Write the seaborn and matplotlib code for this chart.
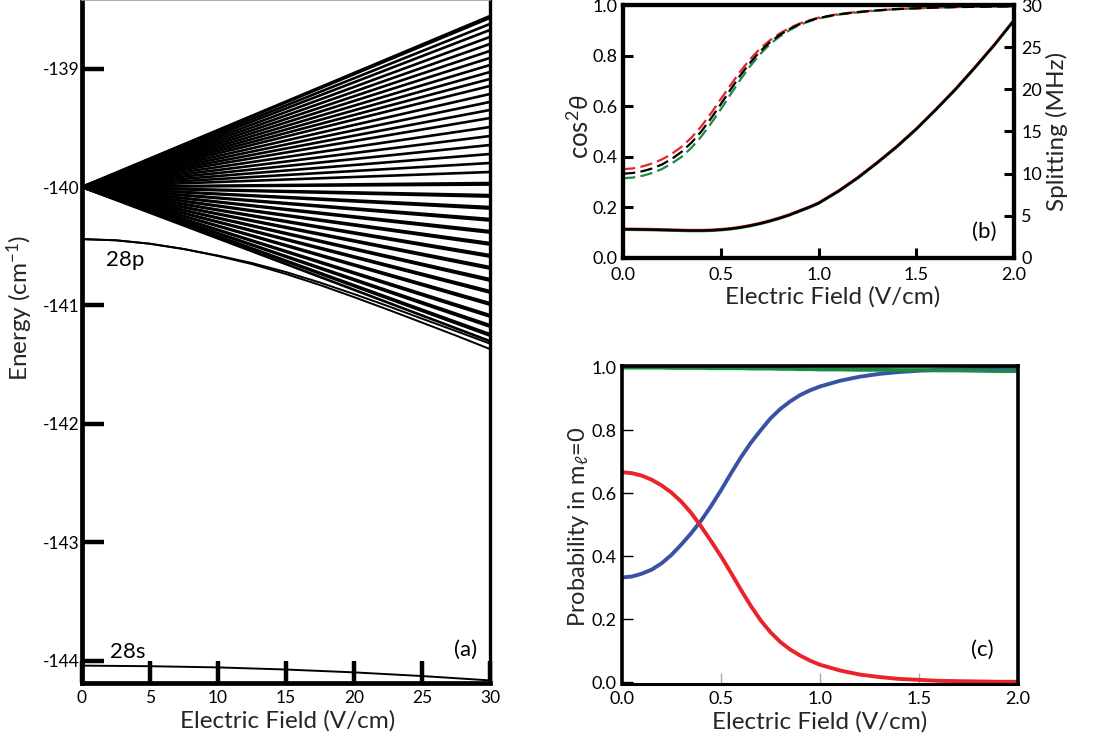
import matplotlib
matplotlib.use("Agg")
import matplotlib.pyplot as plt
import matplotlib.ticker as mticker
import numpy as np
import pandas as pd
import seaborn as sns

sns.set_style("white")
plt.rcParams["font.family"] = ["Lato", "DejaVu Sans"]
plt.rcParams["mathtext.fontset"] = "custom"
plt.rcParams["mathtext.rm"] = "Lato"
plt.rcParams["mathtext.it"] = "Lato:italic"
plt.rcParams["mathtext.bf"] = "Lato:bold"
plt.rcParams["axes.unicode_minus"] = False
plt.rcParams["axes.edgecolor"] = "black"
plt.rcParams["text.color"] = "black"
plt.rcParams["xtick.color"] = "black"
plt.rcParams["ytick.color"] = "black"

# ---------------- (a) n=28 Stark map ----------------
manifold_origin = -140.0          # energy of the degenerate manifold at zero field
manifold_field = [0.0, 30.0]      # V/cm
manifold_end = [                   # energies of the Stark states at 30 V/cm (cm^-1)
    -138.555, -138.571, -138.622, -138.673, -138.732, -138.791, -138.850,
    -138.909, -138.969, -139.028, -139.087, -139.146, -139.214, -139.281,
    -139.349, -139.417, -139.493, -139.569, -139.645, -139.721, -139.797,
    -139.873, -139.966, -139.979, -140.068, -140.081, -140.169, -140.182,
    -140.270, -140.283, -140.372, -140.385, -140.473, -140.486, -140.575,
    -140.588, -140.676, -140.689, -140.778, -140.791, -140.879, -140.892,
    -140.981, -140.994, -141.082, -141.095, -141.167, -141.180, -141.243,
    -141.256, -141.302,
]
p_field = [0.0, 2.5, 5.0, 7.5, 10.0, 12.5, 15.0, 17.5, 20.0, 22.5, 25.0, 27.5, 30.0]
p_upper = [-140.440, -140.450, -140.479, -140.524, -140.579, -140.642, -140.718,
           -140.807, -140.904, -141.006, -141.112, -141.217, -141.323]
p_lower = [-140.440, -140.450, -140.479, -140.524, -140.583, -140.651, -140.735,
           -140.828, -140.930, -141.036, -141.145, -141.255, -141.369]
s_field = [0.0, 5.0, 10.0, 15.0, 20.0, 25.0, 30.0]
s_energy = [-144.043, -144.048, -144.058, -144.076, -144.100, -144.131, -144.168]
a_xticks = [0, 5, 10, 15, 20, 25, 30]
a_yticks = [-139, -140, -141, -142, -143, -144]

# ---------------- shared field grid for (b) and (c), V/cm ----------------
field = [0.00, 0.05, 0.10, 0.15, 0.20, 0.25, 0.30, 0.35, 0.40, 0.45, 0.50,
         0.55, 0.60, 0.65, 0.70, 0.75, 0.80, 0.85, 0.90, 0.95, 1.00,
         1.10, 1.20, 1.30, 1.40, 1.50, 1.60, 1.70, 1.80, 1.90, 2.00]

# ---------------- (b) alignment and splitting ----------------
cos2_red = [0.351, 0.354, 0.362, 0.374, 0.390, 0.412, 0.440, 0.476, 0.520, 0.572, 0.628,
            0.684, 0.738, 0.786, 0.827, 0.860, 0.887, 0.909, 0.926, 0.939, 0.950,
            0.964, 0.973, 0.979, 0.984, 0.987, 0.990, 0.992, 0.993, 0.994, 0.995]
cos2_black = [0.333, 0.336, 0.343, 0.354, 0.370, 0.392, 0.420, 0.456, 0.500, 0.552, 0.608,
              0.666, 0.722, 0.772, 0.816, 0.852, 0.881, 0.905, 0.923, 0.937, 0.949,
              0.963, 0.972, 0.979, 0.984, 0.987, 0.990, 0.992, 0.993, 0.994, 0.995]
cos2_green = [0.315, 0.318, 0.325, 0.336, 0.352, 0.374, 0.400, 0.436, 0.480, 0.532, 0.588,
              0.647, 0.705, 0.758, 0.805, 0.844, 0.875, 0.900, 0.920, 0.935, 0.947,
              0.962, 0.971, 0.978, 0.984, 0.987, 0.990, 0.992, 0.993, 0.994, 0.995]
split_red = [3.46, 3.455, 3.44, 3.42, 3.39, 3.36, 3.33, 3.31, 3.31, 3.34, 3.41,
             3.52, 3.68, 3.89, 4.14, 4.44, 4.78, 5.16, 5.61, 6.06, 6.56,
             7.96, 9.56, 11.36, 13.26, 15.36, 17.66, 20.06, 22.66, 25.36, 28.26]
split_black = [3.40, 3.395, 3.38, 3.36, 3.33, 3.30, 3.27, 3.25, 3.25, 3.28, 3.35,
               3.46, 3.62, 3.83, 4.08, 4.38, 4.72, 5.10, 5.55, 6.00, 6.50,
               7.90, 9.50, 11.30, 13.20, 15.30, 17.60, 20.00, 22.60, 25.30, 28.20]
split_green = [3.34, 3.335, 3.32, 3.30, 3.27, 3.24, 3.21, 3.19, 3.19, 3.22, 3.29,
               3.40, 3.56, 3.77, 4.02, 4.32, 4.66, 5.04, 5.49, 5.94, 6.44,
               7.84, 9.44, 11.24, 13.14, 15.24, 17.54, 19.94, 22.54, 25.24, 28.14]
split_ticks = [0, 5, 10, 15, 20, 25, 30]

# ---------------- (c) m_l = 0 probability ----------------
prob_blue = [0.333, 0.336, 0.345, 0.358, 0.378, 0.405, 0.438, 0.474, 0.514, 0.560, 0.610,
             0.663, 0.714, 0.760, 0.800, 0.838, 0.868, 0.892, 0.912, 0.927, 0.939,
             0.957, 0.970, 0.979, 0.985, 0.989, 0.992, 0.994, 0.995, 0.996, 0.997]
prob_red = [0.667, 0.664, 0.656, 0.643, 0.625, 0.602, 0.573, 0.537, 0.494, 0.448, 0.400,
            0.348, 0.294, 0.243, 0.197, 0.159, 0.128, 0.104, 0.085, 0.069, 0.056,
            0.038, 0.025, 0.017, 0.011, 0.008, 0.005, 0.004, 0.003, 0.002, 0.002]
prob_green = [0.999, 0.999, 0.999, 0.999, 0.999, 0.998, 0.998, 0.998, 0.998, 0.997, 0.997,
              0.997, 0.997, 0.996, 0.996, 0.996, 0.995, 0.995, 0.994, 0.994, 0.993,
              0.993, 0.992, 0.992, 0.991, 0.991, 0.990, 0.990, 0.989, 0.988, 0.988]
frac_ticks = [0.0, 0.5, 1.0, 1.5, 2.0]
prob_ticks = [0.0, 0.2, 0.4, 0.6, 0.8, 1.0]

RED = "#e8242a"
GREEN = "#1b8a44"
BLUE = "#3953a4"

fig = plt.figure(figsize=(11, 7.4), dpi=100)
ax_a = fig.add_axes([0.0745, 0.077, 0.371, 0.923])
ax_b = fig.add_axes([0.5664, 0.6514, 0.3555, 0.3418])
ax_c = fig.add_axes([0.5655, 0.0757, 0.3600, 0.4297])

# ---- panel (a)
fan = pd.DataFrame({
    "line": np.repeat(np.arange(len(manifold_end)), 2),
    "field": np.tile(manifold_field, len(manifold_end)),
    "energy": np.ravel([[manifold_origin, e] for e in manifold_end]),
})
sns.lineplot(data=fan, x="field", y="energy", units="line", estimator=None,
             color="black", lw=1.9, sort=False, legend=False, ax=ax_a)
for branch in (p_upper, p_lower):
    sns.lineplot(x=p_field, y=branch, color="black", lw=1.4, ax=ax_a)
sns.lineplot(x=s_field, y=s_energy, color="black", lw=1.4, ax=ax_a)

ax_a.set_xlim(0, 30)
ax_a.set_ylim(-144.19, -138.42)
ax_a.set_xticks(a_xticks)
ax_a.set_yticks(a_yticks)
ax_a.tick_params(axis="both", which="major", direction="in", length=16, width=3.2,
                 labelsize=12.5, pad=2, bottom=True, left=True, top=False, right=False)
ax_a.tick_params(axis="x", pad=5)
for side, lw in (("left", 3.4), ("bottom", 3.4), ("right", 2.4)):
    ax_a.spines[side].set_linewidth(lw)
    ax_a.spines[side].set_color("black")
ax_a.spines["top"].set_linewidth(1.2)
ax_a.spines["top"].set_color("#999999")
ax_a.set_xlabel("Electric Field (V/cm)", fontsize=17.5, va="center")
ax_a.xaxis.set_label_coords(0.504, -0.056)
ax_a.set_ylabel("Energy (cm$^{-1}$)", fontsize=17.5, va="center")
ax_a.yaxis.set_label_coords(-0.152, 0.55)
ax_a.text(3.2, -140.62, "28p", fontsize=16, ha="center", va="center")
ax_a.text(3.4, -143.93, "28s", fontsize=16, ha="center", va="center")
ax_a.text(28.2, -143.91, "(a)", fontsize=16, ha="center", va="center")

# ---- panel (b)
dash = (5.5, 2.4)
for vals, col in ((cos2_green, GREEN), (cos2_red, RED), (cos2_black, "black")):
    sns.lineplot(x=field, y=vals, color=col, lw=1.6, ax=ax_b)
    ax_b.lines[-1].set_dashes(dash)
ax_b.set_xlim(0, 2.0)
ax_b.set_ylim(0, 1.0)
ax_b.set_xticks(frac_ticks)
ax_b.set_yticks(prob_ticks)
ax_b.xaxis.set_major_formatter(mticker.FormatStrFormatter("%.1f"))
ax_b.yaxis.set_major_formatter(mticker.FormatStrFormatter("%.1f"))
ax_b.tick_params(axis="both", direction="in", length=7.5, width=2.2,
                 labelsize=13, pad=4, bottom=True, left=True, top=False, right=False)
ax_b.tick_params(axis="x", pad=6.5)

ax_b2 = ax_b.twinx()
for vals, col in ((split_green, GREEN), (split_red, RED), (split_black, "black")):
    sns.lineplot(x=field, y=vals, color=col, lw=1.8, ax=ax_b2)
ax_b2.set_ylim(0, 30)
ax_b2.set_yticks(split_ticks)
ax_b2.tick_params(axis="y", direction="in", length=7.5, width=2.2,
                  labelsize=13, pad=5, right=True, left=False)
for ax in (ax_b, ax_b2):
    for side in ("left", "right", "top", "bottom"):
        ax.spines[side].set_linewidth(3.0)
        ax.spines[side].set_color("black")
ax_b.set_xlabel("Electric Field (V/cm)", fontsize=17.5, va="center")
ax_b.xaxis.set_label_coords(0.535, -0.155)
ax_b.set_ylabel(r"cos$^{2}\theta$", fontsize=18.5, va="center")
ax_b.yaxis.set_label_coords(-0.11, 0.518)
ax_b2.set_ylabel("Splitting (MHz)", fontsize=17.5, va="center", rotation=90)
ax_b2.yaxis.set_label_coords(1.11, 0.50)
ax_b.text(1.847, 0.103, "(b)", fontsize=16, ha="center", va="center")

# ---- panel (c)
for vals, col in ((prob_blue, BLUE), (prob_red, RED), (prob_green, GREEN)):
    sns.lineplot(x=field, y=vals, color=col, lw=2.8, ax=ax_c)
ax_c.set_xlim(0, 2.0)
ax_c.set_ylim(-0.005, 1.004)
ax_c.set_xticks(frac_ticks)
ax_c.set_yticks(prob_ticks)
ax_c.xaxis.set_major_formatter(mticker.FormatStrFormatter("%.1f"))
ax_c.yaxis.set_major_formatter(mticker.FormatStrFormatter("%.1f"))
ax_c.tick_params(axis="both", direction="in", length=8, width=1.0,
                 labelsize=13, pad=4, bottom=True, left=True, top=False, right=False)
ax_c.tick_params(axis="x", color="#aaaaaa", pad=5)
for side, lw in (("left", 2.6), ("right", 2.6), ("top", 2.6), ("bottom", 2.2)):
    ax_c.spines[side].set_linewidth(lw)
    ax_c.spines[side].set_color("black")
ax_c.set_xlabel("Electric Field (V/cm)", fontsize=17.5, va="center")
ax_c.xaxis.set_label_coords(0.5, -0.12)
ax_c.set_ylabel(r"Probability in m$_{\ell}$=0", fontsize=17, va="center")
ax_c.yaxis.set_label_coords(-0.111, 0.494)
ax_c.text(1.817, 0.104, "(c)", fontsize=16, ha="center", va="center")

fig.savefig("out.png", dpi=100)
